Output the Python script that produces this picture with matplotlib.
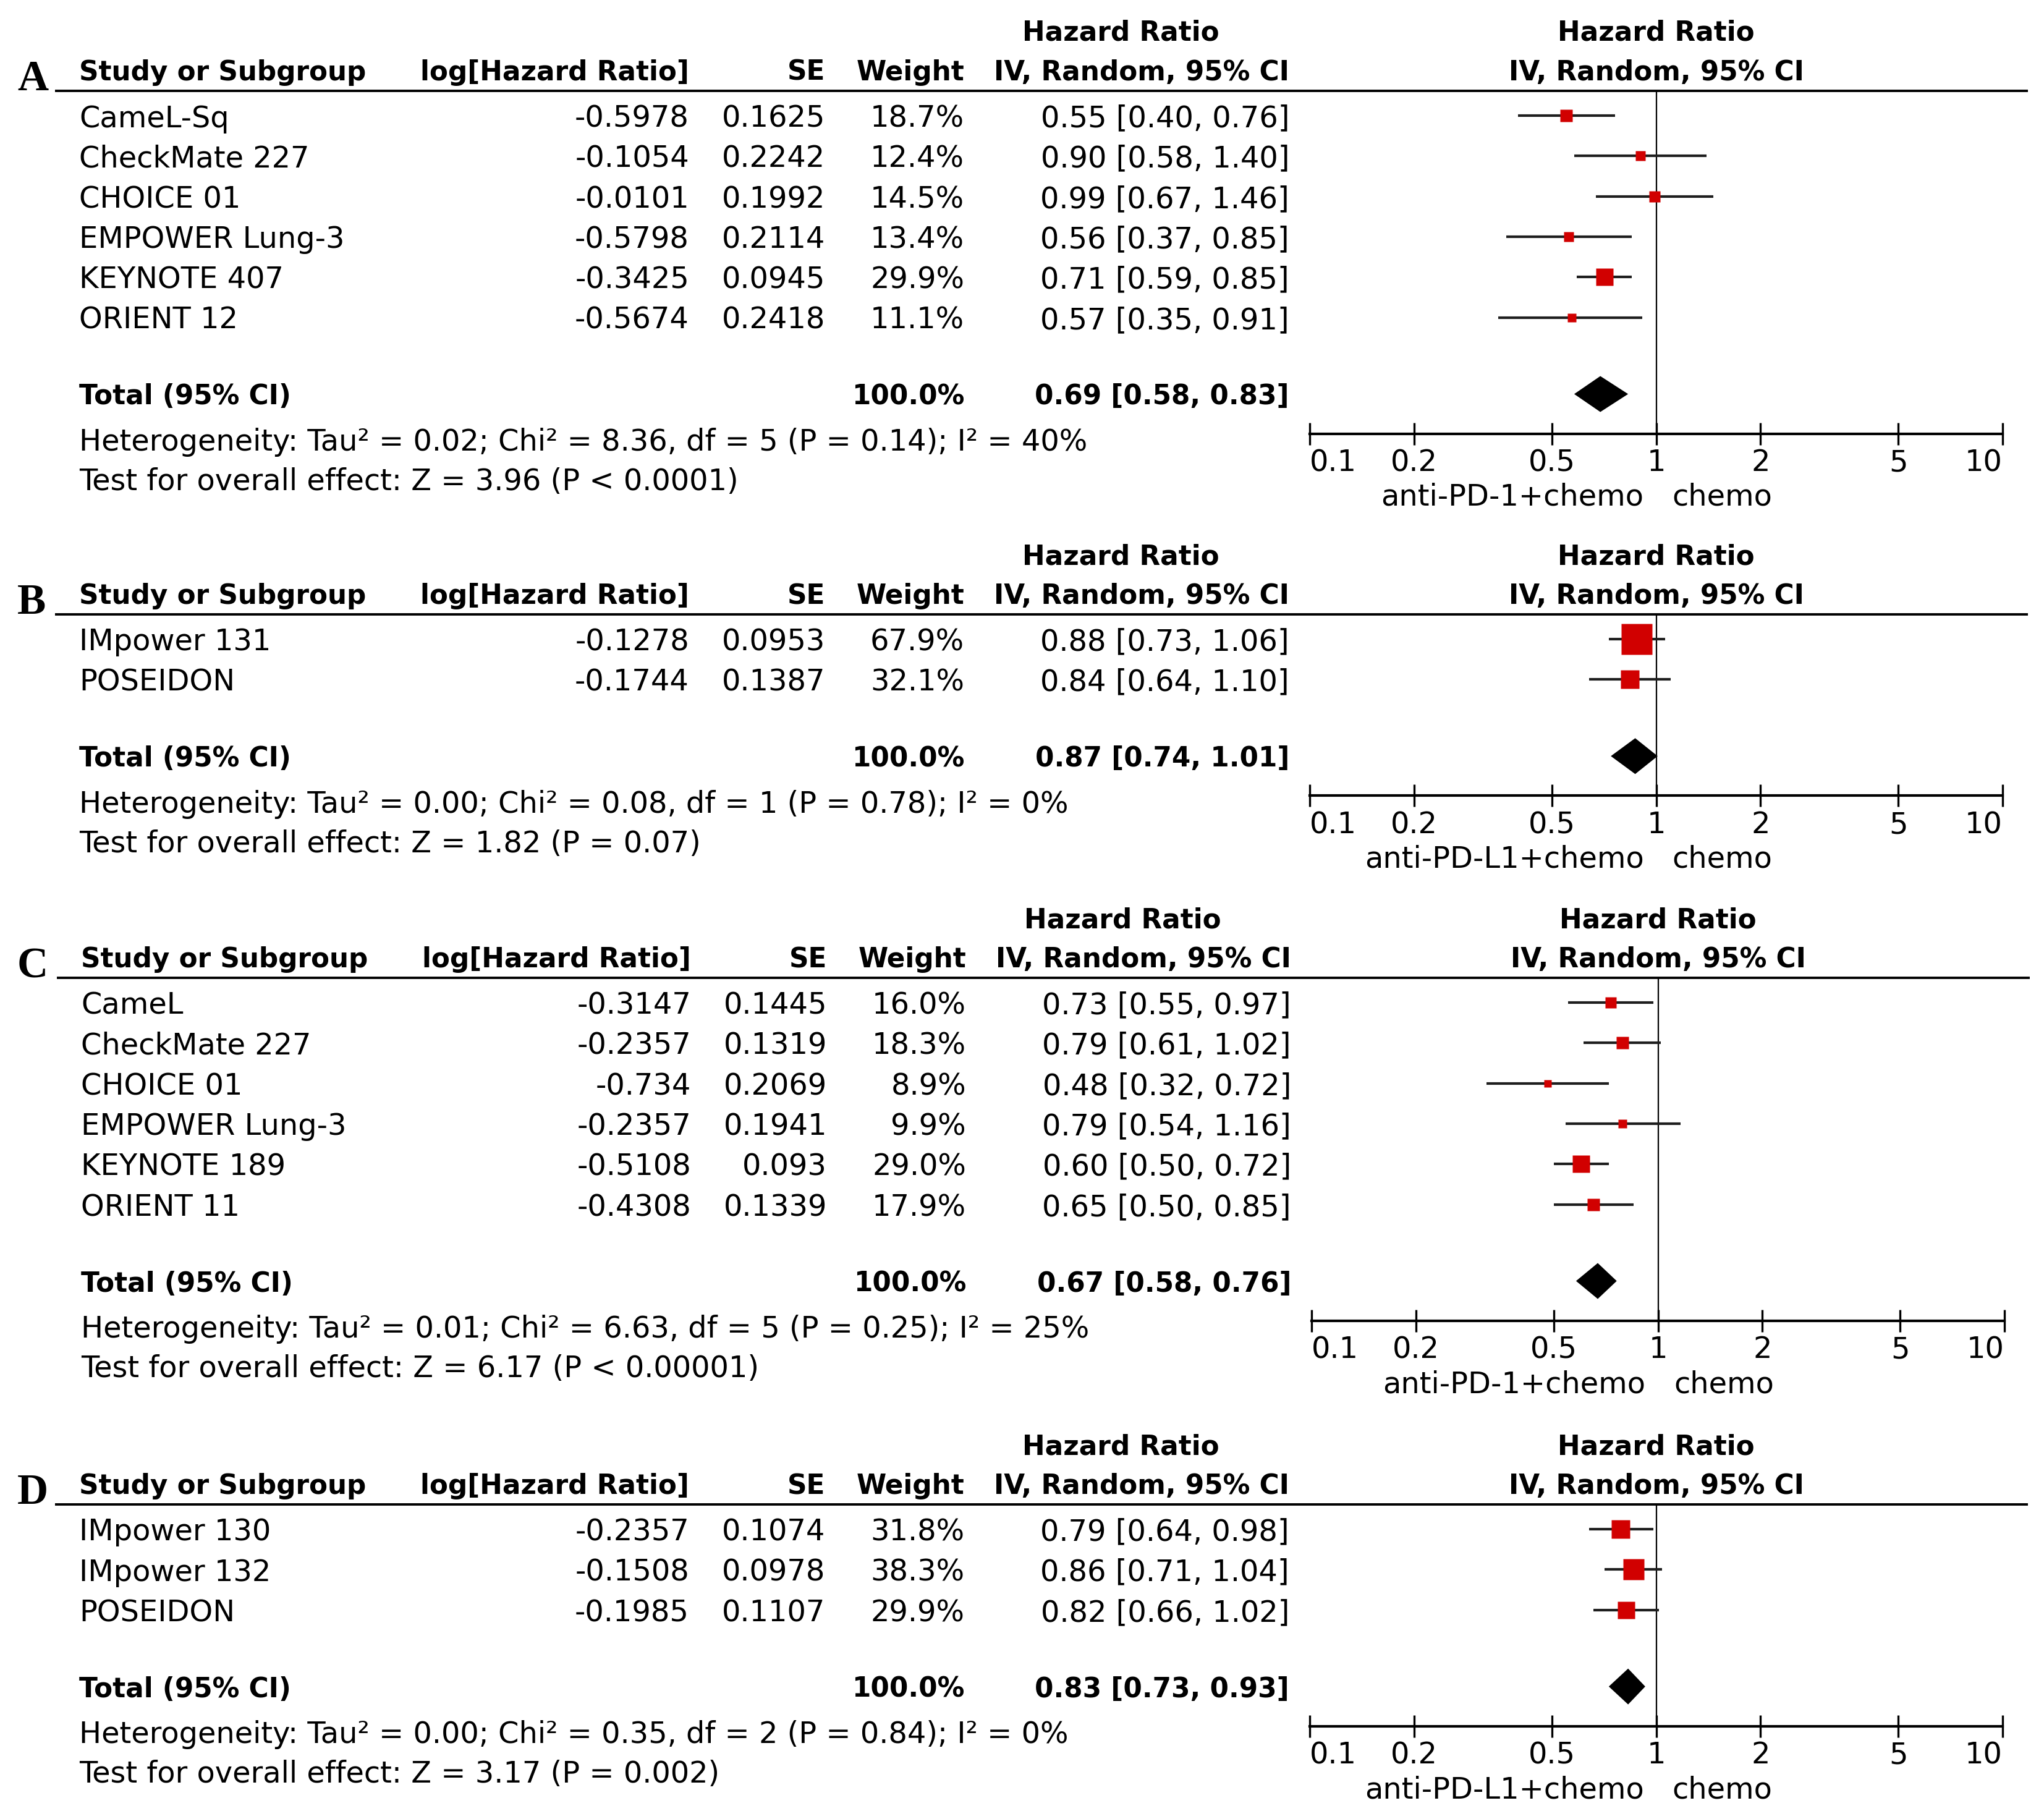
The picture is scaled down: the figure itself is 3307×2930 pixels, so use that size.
import matplotlib.pyplot as plt
from matplotlib.ticker import NullLocator
from matplotlib.transforms import offset_copy

plt.rcParams['font.family'] = ['DejaVu Sans']

# ---- data: panel A ----
A_names = ["CameL-Sq", "CheckMate 227", "CHOICE 01", "EMPOWER Lung-3", "KEYNOTE 407", "ORIENT 12"]
A_loghr = [-0.5978, -0.1054, -0.0101, -0.5798, -0.3425, -0.5674]
A_se = [0.1625, 0.2242, 0.1992, 0.2114, 0.0945, 0.2418]
A_weight = [18.7, 12.4, 14.5, 13.4, 29.9, 11.1]
A_hr = [0.55, 0.90, 0.99, 0.56, 0.71, 0.57]
A_lo = [0.40, 0.58, 0.67, 0.37, 0.59, 0.35]
A_hi = [0.76, 1.40, 1.46, 0.85, 0.85, 0.91]
A_total = [0.69, 0.58, 0.83]
A_het = "Heterogeneity: Tau² = 0.02; Chi² = 8.36, df = 5 (P = 0.14); I² = 40%"
A_test = "Test for overall effect: Z = 3.96 (P < 0.0001)"
A_favours = ["anti-PD-1+chemo", "chemo"]

# ---- data: panel B ----
B_names = ["IMpower 131", "POSEIDON"]
B_loghr = [-0.1278, -0.1744]
B_se = [0.0953, 0.1387]
B_weight = [67.9, 32.1]
B_hr = [0.88, 0.84]
B_lo = [0.73, 0.64]
B_hi = [1.06, 1.10]
B_total = [0.87, 0.74, 1.01]
B_het = "Heterogeneity: Tau² = 0.00; Chi² = 0.08, df = 1 (P = 0.78); I² = 0%"
B_test = "Test for overall effect: Z = 1.82 (P = 0.07)"
B_favours = ["anti-PD-L1+chemo", "chemo"]

# ---- data: panel C ----
C_names = ["CameL", "CheckMate 227", "CHOICE 01", "EMPOWER Lung-3", "KEYNOTE 189", "ORIENT 11"]
C_loghr = [-0.3147, -0.2357, -0.734, -0.2357, -0.5108, -0.4308]
C_se = [0.1445, 0.1319, 0.2069, 0.1941, 0.093, 0.1339]
C_weight = [16.0, 18.3, 8.9, 9.9, 29.0, 17.9]
C_hr = [0.73, 0.79, 0.48, 0.79, 0.60, 0.65]
C_lo = [0.55, 0.61, 0.32, 0.54, 0.50, 0.50]
C_hi = [0.97, 1.02, 0.72, 1.16, 0.72, 0.85]
C_total = [0.67, 0.58, 0.76]
C_het = "Heterogeneity: Tau² = 0.01; Chi² = 6.63, df = 5 (P = 0.25); I² = 25%"
C_test = "Test for overall effect: Z = 6.17 (P < 0.00001)"
C_favours = ["anti-PD-1+chemo", "chemo"]

# ---- data: panel D ----
D_names = ["IMpower 130", "IMpower 132", "POSEIDON"]
D_loghr = [-0.2357, -0.1508, -0.1985]
D_se = [0.1074, 0.0978, 0.1107]
D_weight = [31.8, 38.3, 29.9]
D_hr = [0.79, 0.86, 0.82]
D_lo = [0.64, 0.71, 0.66]
D_hi = [0.98, 1.04, 1.02]
D_total = [0.83, 0.73, 0.93]
D_het = "Heterogeneity: Tau² = 0.00; Chi² = 0.35, df = 2 (P = 0.84); I² = 0%"
D_test = "Test for overall effect: Z = 3.17 (P = 0.002)"
D_favours = ["anti-PD-L1+chemo", "chemo"]

TICKS = [0.1, 0.2, 0.5, 1, 2, 5, 10]
TICK_LABELS = ["0.1", "0.2", "0.5", "1", "2", "5", "10"]

panels = [
    ("A", A_names, A_loghr, A_se, A_weight, A_hr, A_lo, A_hi, A_total, A_het, A_test, A_favours),
    ("B", B_names, B_loghr, B_se, B_weight, B_hr, B_lo, B_hi, B_total, B_het, B_test, B_favours),
    ("C", C_names, C_loghr, C_se, C_weight, C_hr, C_lo, C_hi, C_total, C_het, C_test, C_favours),
    ("D", D_names, D_loghr, D_se, D_weight, D_hr, D_lo, D_hi, D_total, D_het, D_test, D_favours),
]

# ---- layout (pixels) ----
W, H = 3307, 2930
DPI = 100
FS = 34.5        # regular text
FS_B = 31.5      # bold text (DejaVu bold runs wide)
RED = "#d10000"
LINE = "#1e1e1e"
RULE_Y = [147, 994, 1582, 2434]
PANEL_DX = [0, 0, 3, 0]
ROW_STEP = 65.3
X_STUDY = 128
X_LOG = 1115
X_SE = 1335
X_WEIGHT = 1560
X_CI = 2086
X_HRHEAD = 1813
X_AX0, X_AX1 = 2119, 3240

fig = plt.figure(figsize=(W / DPI, H / DPI), dpi=DPI)
tx = fig.add_axes([0, 0, 1, 1])
tx.set_xlim(0, W)
tx.set_ylim(H, 0)
tx.axis("off")


def put(x, y, s, ha="left", bold=False, ax=tx, **kw):
    ax.text(x, y, s, ha=ha, va="center_baseline", fontsize=FS_B if bold else FS,
            fontweight="bold" if bold else "normal", color="black", **kw)


for k, (letter, names, loghr, se, weight, hr, lo, hi, total, het, test, fav) in enumerate(panels):
    R = RULE_Y[k]
    dx = PANEL_DX[k]
    rows_y = [R + 40 + ROW_STEP * i for i in range(len(names))]
    total_y = rows_y[-1] + 124
    het_y = total_y + 73
    test_y = het_y + 64
    axis_y = total_y + 64

    # panel letter and header rule
    tx.text(28, R - 1, letter, ha="left", va="baseline", fontsize=50,
            fontweight="bold", family="Liberation Serif")
    tx.plot([89 + dx, 3281 + dx], [R, R], color="black", lw=2.8, solid_capstyle="butt")

    # table headers
    put(X_HRHEAD + dx, R - 98, "Hazard Ratio", ha="center", bold=True)
    put(X_STUDY + dx, R - 34, "Study or Subgroup", bold=True)
    put(X_LOG + dx, R - 34, "log[Hazard Ratio]", ha="right", bold=True)
    put(X_SE + dx, R - 34, "SE", ha="right", bold=True)
    put(X_WEIGHT + dx, R - 34, "Weight", ha="right", bold=True)
    put(X_CI + dx, R - 34, "IV, Random, 95% CI", ha="right", bold=True)

    # study rows
    for i, y in enumerate(rows_y):
        put(X_STUDY + dx, y, names[i])
        put(X_LOG + dx, y, str(loghr[i]), ha="right")
        put(X_SE + dx, y, str(se[i]), ha="right")
        put(X_WEIGHT + dx, y, f"{weight[i]:.1f}%", ha="right")
        put(X_CI + dx, y, f"{hr[i]:.2f} [{lo[i]:.2f}, {hi[i]:.2f}]", ha="right")

    # total and footer
    put(X_STUDY + dx, total_y, "Total (95% CI)", bold=True)
    put(X_WEIGHT + dx, total_y, f"{sum(weight):.1f}%", ha="right", bold=True)
    put(X_CI + dx, total_y, f"{total[0]:.2f} [{total[1]:.2f}, {total[2]:.2f}]", ha="right", bold=True)
    put(X_STUDY + dx, het_y, het)
    put(X_STUDY + dx, test_y, test)

    # forest plot axes (log scale, y in figure pixels)
    fx = fig.add_axes([(X_AX0 + dx) / W, 0, (X_AX1 - X_AX0) / W, 1])
    fx.set_xscale("log")
    fx.set_xlim(0.1, 10)
    fx.set_ylim(H, 0)
    fx.patch.set_visible(False)
    for s in ["left", "right", "top"]:
        fx.spines[s].set_visible(False)
    fx.spines["bottom"].set_position(("data", axis_y))
    fx.spines["bottom"].set_linewidth(3)
    fx.set_yticks([])
    fx.set_xticks(TICKS)
    fx.set_xticklabels(TICK_LABELS)
    fx.xaxis.set_minor_locator(NullLocator())
    fx.tick_params(axis="x", direction="inout", length=25.6, width=2.4, pad=4.4, labelsize=FS)
    tl = fx.get_xticklabels()
    tl[0].set_ha("left")
    tl[-1].set_ha("right")

    put(1, R - 98, "Hazard Ratio", ha="center", bold=True, ax=fx)
    put(1, R - 34, "IV, Random, 95% CI", ha="center", bold=True, ax=fx)

    fx.vlines(1, R, axis_y, color="black", lw=1.6, zorder=1)
    fx.hlines(rows_y, lo, hi, color=LINE, lw=3, zorder=2)
    for i, y in enumerate(rows_y):
        side_px = 2.65 * weight[i] ** 0.7
        fx.plot(hr[i], y, marker="s", ms=side_px * 72 / DPI, color=RED, mec="none", zorder=3)

    d = 29
    fx.fill([total[1], total[0], total[2], total[0]],
            [total_y, total_y - d, total_y, total_y + d], color="black", lw=0, zorder=3)

    # favours labels
    left_tr = offset_copy(fx.transData, fig=fig, x=-20, y=0, units="dots")
    right_tr = offset_copy(fx.transData, fig=fig, x=26, y=0, units="dots")
    fx.text(1, axis_y + 98, fav[0], ha="right", va="center_baseline", fontsize=FS, transform=left_tr)
    fx.text(1, axis_y + 98, fav[1], ha="left", va="center_baseline", fontsize=FS, transform=right_tr)

fig.savefig("out.png", dpi=DPI)
